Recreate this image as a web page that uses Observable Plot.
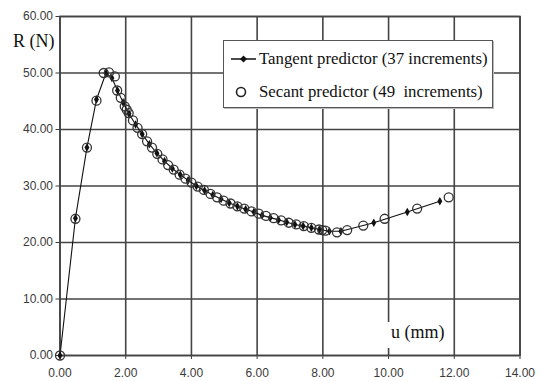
<!DOCTYPE html>
<html>
<head>
<meta charset="utf-8">
<script src="https://cdn.jsdelivr.net/npm/d3@7"></script>
<script src="https://cdn.jsdelivr.net/npm/@observablehq/plot@0.6"></script>
<style>
  html, body { margin: 0; padding: 0; background: #fff; }
  #wrap { position: relative; width: 541px; height: 381px; }
  .lbl { position: absolute; font-family: "Liberation Serif", "Times New Roman", serif; color: #111; white-space: nowrap; }
  #legend { position: absolute; left: 223px; top: 40px; width: 268px; height: 66px; background: #fff; border: 1px solid #555; box-shadow: 1px 1px 0 #bbb; font-family: "Liberation Serif", serif; font-size: 16.8px; color: #111; }
  .row { position: absolute; left: 6px; display: flex; align-items: center; white-space: pre; }
</style>
</head>
<body>
<div id="wrap"></div>
<script>
// Tangent predictor (37 increments)
const tangentU = [0, 0.47, 0.82, 1.11, 1.40, 1.58, 1.75, 1.92, 2.10, 2.30, 2.50, 2.72, 2.95, 3.18, 3.42, 3.66, 3.90, 4.15, 4.40, 4.65, 4.90, 5.15, 5.40, 5.65, 5.90, 6.15, 6.40, 6.65, 6.90, 7.15, 7.40, 7.65, 7.90, 8.20, 8.55, 9.55, 10.57, 11.56];
const tangentR = [0, 24.3, 36.8, 45.3, 50.0, 49.1, 46.9, 44.8, 42.8, 40.9, 39.2, 37.4, 35.8, 34.4, 33.1, 32.0, 31.0, 30.0, 29.2, 28.4, 27.7, 27.0, 26.4, 25.9, 25.4, 24.8, 24.4, 24.0, 23.6, 23.2, 22.9, 22.6, 22.3, 22.0, 22.0, 23.5, 25.4, 27.3];
// Secant predictor (49 increments)
const secantU = [0, 0.47, 0.82, 1.11, 1.33, 1.49, 1.67, 1.74, 1.85, 1.97, 2.03, 2.09, 2.22, 2.36, 2.50, 2.65, 2.80, 2.96, 3.12, 3.29, 3.46, 3.64, 3.82, 4.00, 4.19, 4.38, 4.58, 4.78, 4.98, 5.19, 5.40, 5.61, 5.83, 6.05, 6.27, 6.50, 6.73, 6.96, 7.19, 7.42, 7.65, 7.88, 7.98, 8.08, 8.43, 8.74, 9.23, 9.88, 10.87, 11.83];
const secantR = [0, 24.2, 36.8, 45.1, 50.0, 50.1, 49.4, 46.9, 45.6, 44.1, 43.5, 42.9, 41.6, 40.3, 39.2, 37.9, 36.8, 35.7, 34.7, 33.7, 32.9, 32.0, 31.3, 30.6, 29.9, 29.3, 28.6, 28.0, 27.4, 26.9, 26.4, 26.0, 25.5, 25.1, 24.7, 24.3, 23.9, 23.5, 23.2, 22.9, 22.6, 22.3, 22.2, 22.1, 21.8, 22.2, 23.0, 24.2, 26.0, 28.0];
const xTicks = [0, 2, 4, 6, 8, 10, 12, 14];
const yTicks = [0, 10, 20, 30, 40, 50, 60];
const seriesNames = ["Tangent predictor (37 increments)", "Secant predictor (49  increments)"];
const xLabel = "u (mm)";
const yLabel = "R (N)";

const tangent = tangentU.map((u, i) => ({u, r: tangentR[i]}));
const secant = secantU.map((u, i) => ({u, r: secantR[i]}));

const gridColor = "#444";
const chart = Plot.plot({
  width: 541,
  height: 381,
  marginLeft: 59.5,
  marginRight: 21.5,
  marginTop: 16,
  marginBottom: 26,
  style: {fontFamily: "Liberation Sans, Arial, sans-serif", fontSize: "12px", color: "#3a3a3a", background: "#fff"},
  x: {domain: [0, 14], ticks: xTicks, tickFormat: d => d.toFixed(2), label: null, tickSize: 4, tickPadding: 9},
  y: {domain: [0, 60], ticks: yTicks, tickFormat: d => d.toFixed(2), label: null, tickSize: 4, tickPadding: 3},
  marks: [
    Plot.gridX(xTicks, {stroke: gridColor, strokeOpacity: 1, strokeWidth: 1.6}),
    Plot.gridY(yTicks, {stroke: gridColor, strokeOpacity: 1, strokeWidth: 1.6}),
    Plot.frame({stroke: gridColor, strokeWidth: 1.6}),
    Plot.line(tangent, {x: "u", y: "r", stroke: "#111", strokeWidth: 1.1}),
    Plot.dot(tangent, {x: "u", y: "r", symbol: "diamond", r: 2.6, fill: "#111", stroke: "none"}),
    Plot.dot(secant, {x: "u", y: "r", symbol: "circle", r: 4.5, fill: "none", stroke: "#333", strokeWidth: 1.3})
  ]
});
const wrap = document.getElementById("wrap");
wrap.appendChild(chart);

// axis labels
const yl = document.createElement("div");
yl.className = "lbl";
yl.textContent = yLabel;
Object.assign(yl.style, {left: "13px", top: "31px", fontSize: "18px"});
wrap.appendChild(yl);

const xl = document.createElement("div");
xl.className = "lbl";
xl.textContent = xLabel;
Object.assign(xl.style, {left: "384px", top: "322px", fontSize: "18px", background: "#fff", padding: "0 6px 5px 7px"});
wrap.appendChild(xl);

// legend
const lg = document.createElement("div");
lg.id = "legend";
lg.innerHTML = `
  <div class="row" style="top:8px;"><svg width="27" height="12" style="margin-right:2px"><line x1="1" y1="6" x2="26" y2="6" stroke="#111" stroke-width="1.5"/><path d="M13.5,2.5 L17,6 L13.5,9.5 L10,6 Z" fill="#111"/></svg><span>${seriesNames[0]}</span></div>
  <div class="row" style="top:41px;"><svg width="27" height="14" style="margin-right:2px"><circle cx="11" cy="7" r="4.5" fill="none" stroke="#222" stroke-width="1.6"/></svg><span>${seriesNames[1]}</span></div>`;
wrap.appendChild(lg);
</script>
</body>
</html>
